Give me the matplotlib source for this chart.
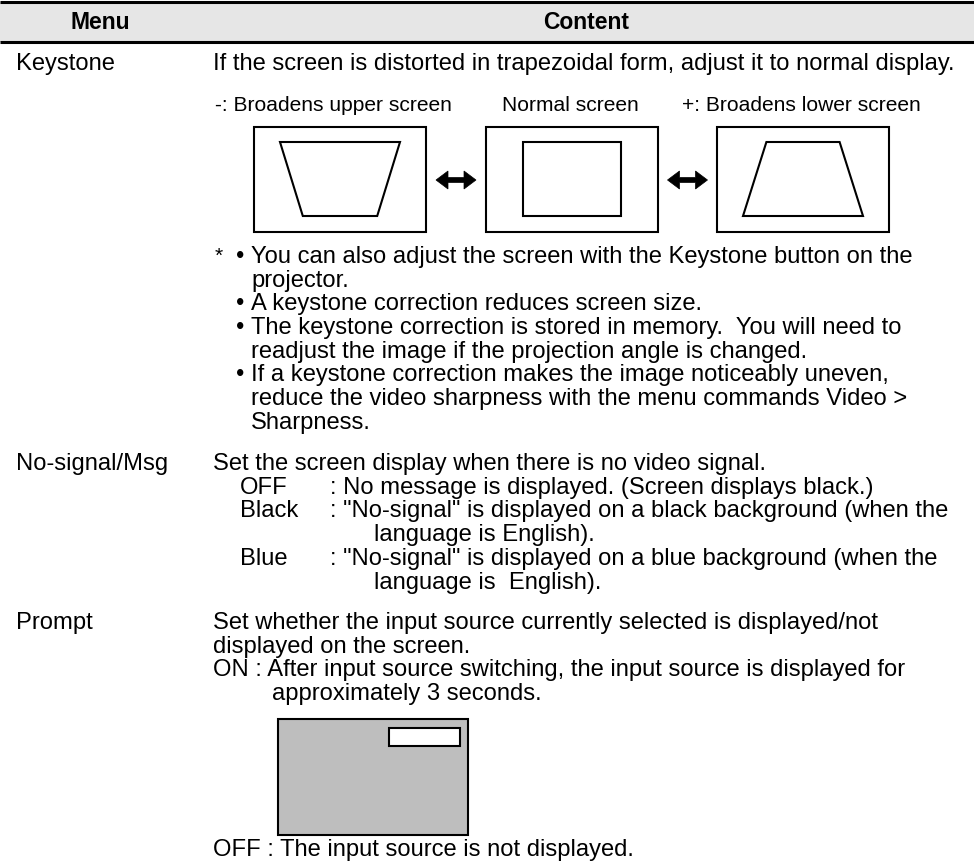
import matplotlib
matplotlib.use("Agg")
import matplotlib.pyplot as plt
from matplotlib.patches import Rectangle, Polygon

plt.rcParams['font.family'] = ['Liberation Sans', 'DejaVu Sans']

# ---- content ----
header_labels = ["Menu", "Content"]
menu_items = ["Keystone", "No-signal/Msg", "Prompt"]

keystone_intro = "If the screen is distorted in trapezoidal form, adjust it to normal display."
screen_labels = ["-: Broadens upper screen", "Normal screen", "+: Broadens lower screen"]
# trapezoid shapes: (top width fraction, bottom width fraction) of inner picture
screen_shapes = [(1.0, 0.62), (0.81, 0.81), (0.61, 1.0)]

keystone_notes = [
    ("•", "You can also adjust the screen with the Keystone button on the"),
    ("", "projector."),
    ("•", "A keystone correction reduces screen size."),
    ("•", "The keystone correction is stored in memory.  You will need to"),
    ("", "readjust the image if the projection angle is changed."),
    ("•", "If a keystone correction makes the image noticeably uneven,"),
    ("", "reduce the video sharpness with the menu commands Video >"),
    ("", "Sharpness."),
]

nosignal_intro = "Set the screen display when there is no video signal."
nosignal_opts = [
    ("OFF", ": No message is displayed. (Screen displays black.)"),
    ("Black", ": \"No-signal\" is displayed on a black background (when the"),
    ("", "language is English)."),
    ("Blue", ": \"No-signal\" is displayed on a blue background (when the"),
    ("", "language is  English)."),
]

prompt_lines = [
    "Set whether the input source currently selected is displayed/not",
    "displayed on the screen.",
    "ON : After input source switching, the input source is displayed for",
]
prompt_cont = "approximately 3 seconds."
prompt_off = "OFF : The input source is not displayed."

# ---- figure ----
W, H = 974, 865
fig = plt.figure(figsize=(W / 100, H / 100), dpi=100)
ax = fig.add_axes([0, 0, 1, 1])
ax.set_xlim(0, W)
ax.set_ylim(H, 0)
ax.axis('off')

BODY = 17.1
SMALL = 15.1
LW = 1.5
LH = 23.7

# header
ax.add_patch(Rectangle((0, 2), W, 40, facecolor='#e6e6e6', edgecolor='none'))
ax.plot([0, W], [2, 2], color='black', lw=2.2, solid_capstyle='butt')
ax.plot([0, W], [42, 42], color='black', lw=2.2, solid_capstyle='butt')
ax.text(100, 29, header_labels[0], fontsize=16.5, fontweight='bold', ha='center', va='baseline')
ax.text(586, 29, header_labels[1], fontsize=16.5, fontweight='bold', ha='center', va='baseline')

X0 = 16
XC = 213

# Keystone row
ax.text(X0, 70, menu_items[0], fontsize=BODY, va='baseline')
ax.text(XC, 70, keystone_intro, fontsize=BODY, va='baseline')

label_x = [215, 502, 682]
for lx, lab in zip(label_x, screen_labels):
    ax.text(lx, 111, lab, fontsize=SMALL, va='baseline')

box_x = [254, 486, 717]
box_w, box_top, box_h = 172, 127, 105
in_top, in_bot = 142, 216
in_w = 120
for bx, (tf, bf) in zip(box_x, screen_shapes):
    ax.add_patch(Rectangle((bx, box_top), box_w, box_h, facecolor='white',
                           edgecolor='black', lw=LW))
    cx = bx + box_w / 2
    tw, bw = in_w * tf, in_w * bf
    ax.add_patch(Polygon([(cx - tw / 2, in_top), (cx + tw / 2, in_top),
                          (cx + bw / 2, in_bot), (cx - bw / 2, in_bot)],
                         closed=True, facecolor='white', edgecolor='black', lw=LW))

# double-headed arrows between the screens
arr_len, head_len, head_half, shaft_half = 40, 12, 9, 2.5
arr_y = box_top + box_h / 2 + 0.5
for i in range(2):
    gap_l = box_x[i] + box_w
    gap_r = box_x[i + 1]
    cx = (gap_l + gap_r) / 2
    xl, xr = cx - arr_len / 2, cx + arr_len / 2
    pts = [(xl, arr_y), (xl + head_len, arr_y - head_half),
           (xl + head_len, arr_y - shaft_half), (xr - head_len, arr_y - shaft_half),
           (xr - head_len, arr_y - head_half), (xr, arr_y),
           (xr - head_len, arr_y + head_half), (xr - head_len, arr_y + shaft_half),
           (xl + head_len, arr_y + shaft_half), (xl + head_len, arr_y + head_half)]
    ax.add_patch(Polygon(pts, closed=True, facecolor='black', edgecolor='black', lw=0.5))

ax.text(215, 262, "*", fontsize=SMALL, va='baseline')
y = 263
for bullet, txt in keystone_notes:
    if bullet:
        ax.text(236, y, bullet, fontsize=BODY, va='baseline')
    ax.text(251, y, txt, fontsize=BODY, va='baseline')
    y += LH

# No-signal row
ax.text(X0, 470, menu_items[1], fontsize=BODY, va='baseline')
ax.text(XC, 470, nosignal_intro, fontsize=BODY, va='baseline')
y = 470 + LH
for key, txt in nosignal_opts:
    if key:
        ax.text(240, y, key, fontsize=BODY, va='baseline')
        ax.text(330, y, txt, fontsize=BODY, va='baseline')
    else:
        ax.text(374, y, txt, fontsize=BODY, va='baseline')
    y += LH

# Prompt row
ax.text(X0, 629, menu_items[2], fontsize=BODY, va='baseline')
y = 629
for txt in prompt_lines:
    ax.text(XC, y, txt, fontsize=BODY, va='baseline')
    y += LH
ax.text(272, y, prompt_cont, fontsize=BODY, va='baseline')

ax.add_patch(Rectangle((278, 719), 190, 116, facecolor='#bebebe', edgecolor='black', lw=LW))
ax.add_patch(Rectangle((389, 728), 71, 18, facecolor='white', edgecolor='black', lw=LW))
ax.text(XC, 856, prompt_off, fontsize=BODY, va='baseline')

fig.savefig('out.png', dpi=100)
